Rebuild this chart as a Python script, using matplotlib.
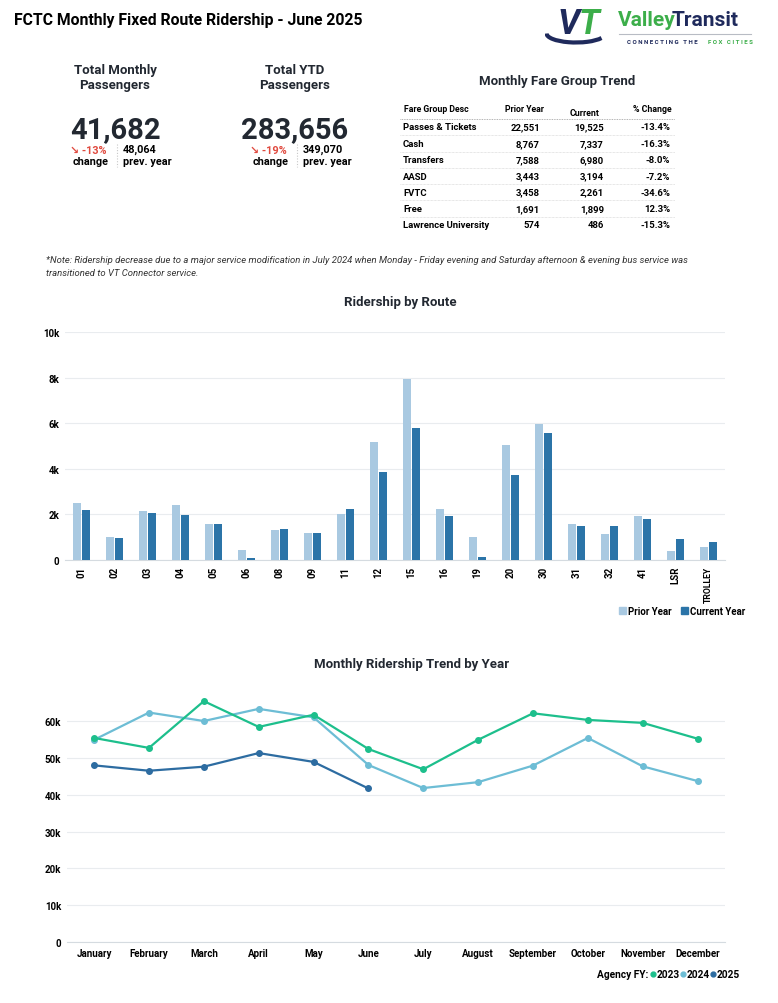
import matplotlib
matplotlib.use("Agg")
import matplotlib.pyplot as plt
from matplotlib.patches import Patch, Arc
from matplotlib.lines import Line2D

plt.rcParams['font.family'] = ['Roboto', 'DejaVu Sans']

# ---- data ----
routes = ['01', '02', '03', '04', '05', '06', '08', '09', '11', '12',
          '15', '16', '19', '20', '30', '31', '32', '41', 'LSR', 'TROLLEY']
prior_year = [2480, 1030, 2130, 2430, 1600, 460, 1310, 1200, 2010, 5160,
              7920, 2220, 1030, 5040, 5950, 1600, 1160, 1920, 410, 590]
current_year = [2200, 970, 2040, 1980, 1600, 70, 1380, 1200, 2230, 3870,
                5780, 1950, 150, 3750, 5560, 1470, 1510, 1820, 900, 770]

months = ['January', 'February', 'March', 'April', 'May', 'June', 'July',
          'August', 'September', 'October', 'November', 'December']
fy2023 = [55400, 52700, 65400, 58400, 61700, 52400, 46900, 54900, 62100, 60300, 59500, 55200]
fy2024 = [54900, 62300, 60000, 63300, 61000, 48064, 41800, 43400, 47900, 55400, 47700, 43700]
fy2025 = [47960, 46500, 47600, 51300, 48900, 41682]

fare_groups = ['Passes & Tickets', 'Cash', 'Transfers', 'AASD', 'FVTC', 'Free', 'Lawrence University']
fare_prior = [22551, 8767, 7588, 3443, 3458, 1691, 574]
fare_current = [19525, 7337, 6980, 3194, 2261, 1899, 486]

month_total, month_prev, month_pct = 41682, 48064, -13
ytd_total, ytd_prev, ytd_pct = 283656, 349070, -19

W, H = 778, 1004
DARK = '#222831'
RED = '#e04a3f'
C_PRIOR = '#a9c9e1'
C_CUR = '#2b74a8'
C23, C24, C25 = '#1dbf8c', '#6dbdd5', '#2d6ca1'
GRID = '#e9ecef'


def fx(x):
    return x / W


def fy(y):
    return 1 - y / H


fig = plt.figure(figsize=(W / 100, H / 100), dpi=100)


def t(x, y, s, **kw):
    kw.setdefault('va', 'center')
    kw.setdefault('color', DARK)
    fig.text(fx(x), fy(y), s, **kw)


# ---- header ----
t(14, 20, 'FCTC Monthly Fixed Route Ridership - June 2025', fontsize=11.3, fontweight='bold', color='black')

# logo
t(558, 25, 'V', fontsize=25, fontweight='bold', fontstyle='italic', color='#1f2a5c')
t(579, 24, 'T', fontsize=25, fontweight='bold', fontstyle='italic', color='#3cae4a')
lax = fig.add_axes([fx(545), fy(48), fx(62), 30 / H])
lax.set_xlim(0, 1)
lax.set_ylim(0, 1)
lax.axis('off')
lax.add_patch(Arc((0.5, 0.45), 0.95, 0.6, theta1=180, theta2=340, lw=3, color='#1f2a5c'))
t(618, 21, 'Valley', fontsize=15, fontweight='bold', color='#3cae4a')
t(672, 21, 'Transit', fontsize=15, fontweight='bold', color='#1f2a5c')
fig.add_artist(Line2D([fx(619), fx(751)], [fy(35), fy(35)], color='#b8bcc4', lw=0.8))
t(627, 43, 'C O N N E C T I N G   T H E', fontsize=4.4, fontweight='bold', color='#1f2a5c')
t(708, 43, 'F O X   C I T I E S', fontsize=4.4, fontweight='bold', color='#3cae4a')

# ---- KPI blocks ----
def kpi(cx, title, total, pct, prev, sep_x):
    t(cx, 78, title, fontsize=9.5, fontweight='bold', ha='center', linespacing=1.2)
    t(cx, 130, f'{total:,}', fontsize=21, fontweight='bold', ha='center')
    t(sep_x - 10, 151, f'\u2198 {pct}%', fontsize=7.8, fontweight='bold', ha='right', color=RED)
    t(sep_x - 26, 162, 'change', fontsize=7.8, fontweight='bold', ha='center', color='black')
    t(sep_x + 6, 150, f'{prev:,}', fontsize=7.8, fontweight='bold', color='black')
    t(sep_x + 6, 162, 'prev. year', fontsize=7.8, fontweight='bold', color='black')
    fig.add_artist(Line2D([fx(sep_x), fx(sep_x)], [fy(145), fy(168)], color='#c8c8c8',
                          lw=0.8, ls=(0, (1, 1.5))))


kpi(115, 'Total Monthly\nPassengers', month_total, month_pct, month_prev, 117)
kpi(295, 'Total YTD\nPassengers', ytd_total, ytd_pct, ytd_prev, 297)

# ---- fare table ----
t(557, 81, 'Monthly Fare Group Trend', fontsize=9.5, fontweight='bold', ha='center')
hs = dict(fontsize=6.3, fontweight='bold', color='black')
rs = dict(fontsize=6.8, fontweight='bold', color='black')
t(404, 110, 'Fare Group Desc', **hs)
t(544, 110, 'Prior Year', ha='right', **hs)
t(599, 113, 'Current', ha='right', **hs)
t(672, 110, '% Change', ha='right', **hs)
row_y = [128, 144.5, 160.5, 177, 193, 209.5, 226]
fig.add_artist(Line2D([fx(400), fx(675)], [fy(120), fy(120)], color='#9a9a9a', lw=0.6, ls=(0, (1, 1))))
for i, name in enumerate(fare_groups):
    y = row_y[i]
    pct = (fare_current[i] - fare_prior[i]) / fare_prior[i] * 100
    t(403, y, name, **rs)
    t(540, y, f'{fare_prior[i]:,}', ha='right', **rs)
    t(604, y, f'{fare_current[i]:,}', ha='right', **rs)
    t(670, y, f'{pct:.1f}%', ha='right', **rs)
    if i < len(fare_groups) - 1:
        fig.add_artist(Line2D([fx(400), fx(675)], [fy(y + 8.2), fy(y + 8.2)], color='#cfcfcf',
                              lw=0.5, ls=(0, (1, 1))))

# note
note = ('*Note: Ridership decrease due to a major service modification in July 2024 when Monday - Friday evening '
        'and Saturday afternoon & evening bus service was\ntransitioned to VT Connector service.')
t(46, 267, note, fontsize=6.8, fontstyle='italic', color='#333333', linespacing=1.45)

# ---- ridership by route ----
t(400, 303, 'Ridership by Route', fontsize=9.5, fontweight='bold', ha='center')
ax = fig.add_axes([fx(65), fy(561), fx(660), 228 / H])
xs = list(range(len(routes)))
bw = 0.25
ax.bar([x - 0.14 for x in xs], prior_year, width=bw, color=C_PRIOR, label='Prior Year', zorder=3)
ax.bar([x + 0.14 for x in xs], current_year, width=bw, color=C_CUR, label='Current Year', zorder=3)
ax.set_xlim(-0.5, len(routes) - 0.5)
ax.set_ylim(0, 10000)
ax.set_yticks(range(0, 10001, 2000))
ax.set_yticklabels(['0', '2k', '4k', '6k', '8k', '10k'])
ax.set_xticks(xs)
ax.set_xticklabels(routes, rotation=90)
ax.grid(axis='y', color=GRID, lw=0.8, zorder=0)
for s in ['top', 'right', 'left']:
    ax.spines[s].set_visible(False)
ax.spines['bottom'].set_color('#d5dbe0')
ax.tick_params(length=0, labelsize=7, pad=4)
for lbl in ax.get_xticklabels() + ax.get_yticklabels():
    lbl.set_fontweight('bold')
ax.get_xticklabels()[-1].set_fontsize(6.3)
ax.legend(handles=[Patch(color=C_PRIOR, label='Prior Year'), Patch(color=C_CUR, label='Current Year')],
          loc='center right', bbox_to_anchor=(fx(750), fy(612)), bbox_transform=fig.transFigure,
          ncol=2, frameon=False, handlelength=0.7, handleheight=0.7, handletextpad=0.2,
          columnspacing=1.0, borderpad=0, prop={'size': 7, 'weight': 'bold'})

# ---- monthly trend ----
t(412, 665, 'Monthly Ridership Trend by Year', fontsize=9.5, fontweight='bold', ha='center')
ax2 = fig.add_axes([fx(66.7), fy(943), fx(658.3), 68 * 3.683 / H])
mx = list(range(len(months)))
ax2.plot(mx, fy2024, color=C24, lw=1.6, marker='o', ms=4, zorder=3)
ax2.plot(mx, fy2023, color=C23, lw=1.6, marker='o', ms=4, zorder=4)
ax2.plot(mx[:len(fy2025)], fy2025, color=C25, lw=1.6, marker='o', ms=4, zorder=5)
ax2.set_xlim(-0.5, 11.5)
ax2.set_ylim(0, 68000)
ax2.set_yticks(range(0, 60001, 10000))
ax2.set_yticklabels(['0', '10k', '20k', '30k', '40k', '50k', '60k'])
ax2.set_xticks(mx)
ax2.set_xticklabels(months)
ax2.grid(axis='y', color=GRID, lw=0.8, zorder=0)
for s in ['top', 'right', 'left']:
    ax2.spines[s].set_visible(False)
ax2.spines['bottom'].set_color('#d5dbe0')
ax2.tick_params(length=0, labelsize=7, pad=4)
for lbl in ax2.get_xticklabels() + ax2.get_yticklabels():
    lbl.set_fontweight('bold')

# legend of years, laid out by hand
t(648, 975, 'Agency FY:', fontsize=7.3, fontweight='bold', ha='right', color='black')
for mxp, lx, c, l in [(653, 657, C23, '2023'), (683, 687, C24, '2024'), (713, 717, C25, '2025')]:
    fig.add_artist(Line2D([fx(mxp)], [fy(975)], ls='none', marker='o', ms=3.5, color=c))
    t(lx, 975, l, fontsize=7.3, fontweight='bold', color='black')

fig.savefig('out.png', dpi=100)
